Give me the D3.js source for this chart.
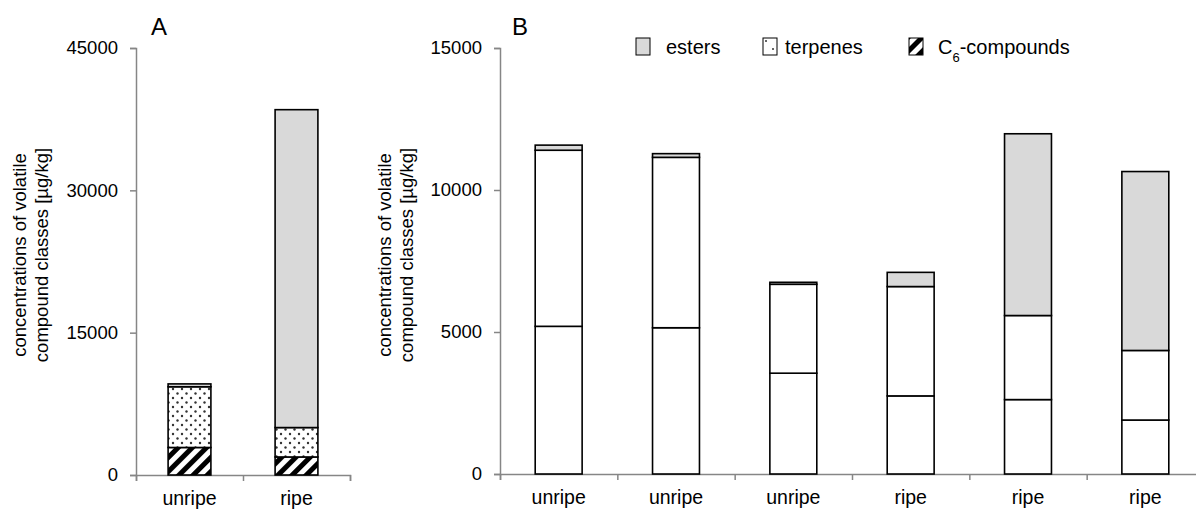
<!DOCTYPE html>
<html>
<head>
<meta charset="utf-8">
<script src="https://cdn.jsdelivr.net/npm/d3@7"></script>
<style>
  body { margin: 0; background: #fff; }
  text { font-family: Arial, "Liberation Sans", sans-serif; fill: #000; }
</style>
</head>
<body>
<svg id="chart" width="1196" height="511"></svg>
<script>
// data
const classes = ["C6", "terpenes", "esters"];
const catsA = ["unripe", "ripe"];
const c6A = [2900, 1900];
const terpA = [6400, 3100];
const estersA = [300, 33500];

const catsB = ["unripe", "unripe", "unripe", "ripe", "ripe", "ripe"];
const c6B = [5200, 5150, 3550, 2750, 2620, 1900];
const terpB = [6200, 6000, 3130, 3850, 2960, 2450];
const estersB = [180, 130, 70, 500, 6400, 6300];

const ticksA = [0, 15000, 30000, 45000];
const ticksB = [0, 5000, 10000, 15000];

const svg = d3.select("#chart");
const defs = svg.append("defs");

// dotted pattern
const dots = defs.append("pattern").attr("id", "dots")
  .attr("patternUnits", "userSpaceOnUse").attr("width", 9).attr("height", 9);
dots.append("rect").attr("width", 9).attr("height", 9).attr("fill", "#fff");
dots.append("circle").attr("cx", 2).attr("cy", 2).attr("r", 1.2).attr("fill", "#333");
dots.append("circle").attr("cx", 6.5).attr("cy", 6.5).attr("r", 1.2).attr("fill", "#333");

// hatched pattern
const hatch = defs.append("pattern").attr("id", "hatch")
  .attr("patternUnits", "userSpaceOnUse").attr("width", 10).attr("height", 10)
  .attr("patternTransform", "rotate(45)");
hatch.append("rect").attr("width", 10).attr("height", 10).attr("fill", "#fff");
hatch.append("rect").attr("width", 5).attr("height", 10).attr("fill", "#000");

const fillA = { C6: "url(#hatch)", terpenes: "url(#dots)", esters: "#d9d9d9" };
const fillB = { C6: "#fff", terpenes: "#fff", esters: "#d9d9d9" };

function drawPanel(o) {
  const n = o.cats.length;
  const rows = o.cats.map((c, i) => ({ i: i, C6: o.c6[i], terpenes: o.terp[i], esters: o.esters[i] }));
  const stacked = d3.stack().keys(classes)(rows);

  const y = d3.scaleLinear().domain([0, o.max]).range([o.y0, o.y1]);
  const x = d3.scaleBand().domain(d3.range(n)).range([o.x0, o.x1])
    .paddingInner(0.6).paddingOuter(0.3);
  const xb = d3.scaleLinear().domain([0, n]).range([o.x0, o.x1]);

  const g = svg.append("g");

  // y axis
  const ya = g.append("g").attr("transform", `translate(${o.x0},0)`)
    .call(d3.axisLeft(y).tickValues(o.ticks).tickSize(6).tickPadding(12).tickFormat(d3.format("d")));
  ya.selectAll("text").style("font-size", "18.5px");

  // x axis (ticks at category boundaries)
  g.append("g").attr("transform", `translate(0,${o.y0})`)
    .call(d3.axisBottom(xb).tickValues(d3.range(n + 1)).tickSize(6).tickFormat(""));
  g.selectAll(".domain, .tick line").attr("stroke", "#868686").attr("stroke-width", 1.5);

  // category labels
  g.selectAll(".cat").data(o.cats).join("text").attr("class", "cat")
    .attr("x", (d, i) => x(i) + x.bandwidth() / 2)
    .attr("y", o.y0 + 30)
    .attr("text-anchor", "middle").style("font-size", "19.5px")
    .text(d => d);

  // bars
  g.selectAll(".layer").data(stacked).join("g").attr("class", "layer")
    .attr("fill", d => o.fills[d.key])
    .selectAll("rect").data(d => d).join("rect")
    .attr("x", d => x(d.data.i))
    .attr("width", x.bandwidth())
    .attr("y", d => y(d[1]))
    .attr("height", d => y(d[0]) - y(d[1]))
    .attr("stroke", "#000").attr("stroke-width", 1.6);

  // y title
  const t = g.append("text")
    .attr("transform", `translate(${o.titleX},255) rotate(-90)`)
    .attr("text-anchor", "middle").style("font-size", "18.5px");
  t.append("tspan").attr("x", 0).attr("dy", 0).text("concentrations of volatile");
  t.append("tspan").attr("x", 0).attr("dy", 22).text("compound classes [µg/kg]");

  // panel letter
  g.append("text").attr("x", o.labelX).attr("y", 35)
    .style("font-size", "24px").text(o.label);
}

drawPanel({
  cats: catsA, c6: c6A, terp: terpA, esters: estersA, max: 45000, ticks: ticksA,
  x0: 136, x1: 350, y0: 475, y1: 48, fills: fillA, titleX: 26, label: "A", labelX: 151
});

drawPanel({
  cats: catsB, c6: c6B, terp: terpB, esters: estersB, max: 15000, ticks: ticksB,
  x0: 500, x1: 1204, y0: 474, y1: 48, fills: fillB, titleX: 391, label: "B", labelX: 512
});

// legend
const legend = svg.append("g").attr("transform", "translate(0,47)");
const legendItems = [
  { key: "esters", x: 636, fill: "#d9d9d9", tx: 30 },
  { key: "terpenes", x: 763, fill: "#fff", tx: 22 },
  { key: "C6", x: 909, fill: "url(#hatch)", tx: 29 }
];
const li = legend.selectAll("g").data(legendItems).join("g")
  .attr("transform", d => `translate(${d.x},0)`);
li.append("rect").attr("x", 0).attr("y", -9).attr("width", 14).attr("height", 17)
  .attr("fill", d => d.fill).attr("stroke", "#000").attr("stroke-width", 1);
li.filter(d => d.key === "terpenes").append("circle")
  .attr("cx", 10).attr("cy", 2).attr("r", 1).attr("fill", "#333");
li.filter(d => d.key === "terpenes").append("circle")
  .attr("cx", 3).attr("cy", -6).attr("r", 1).attr("fill", "#333");
const lt = li.append("text").attr("x", d => d.tx)
  .attr("y", 7).style("font-size", "20px");
lt.filter(d => d.key !== "C6").text(d => d.key);
const c6t = lt.filter(d => d.key === "C6");
c6t.append("tspan").text("C");
c6t.append("tspan").attr("baseline-shift", "sub").style("font-size", "13px").text("6");
c6t.append("tspan").text("-compounds");
</script>
</body>
</html>
